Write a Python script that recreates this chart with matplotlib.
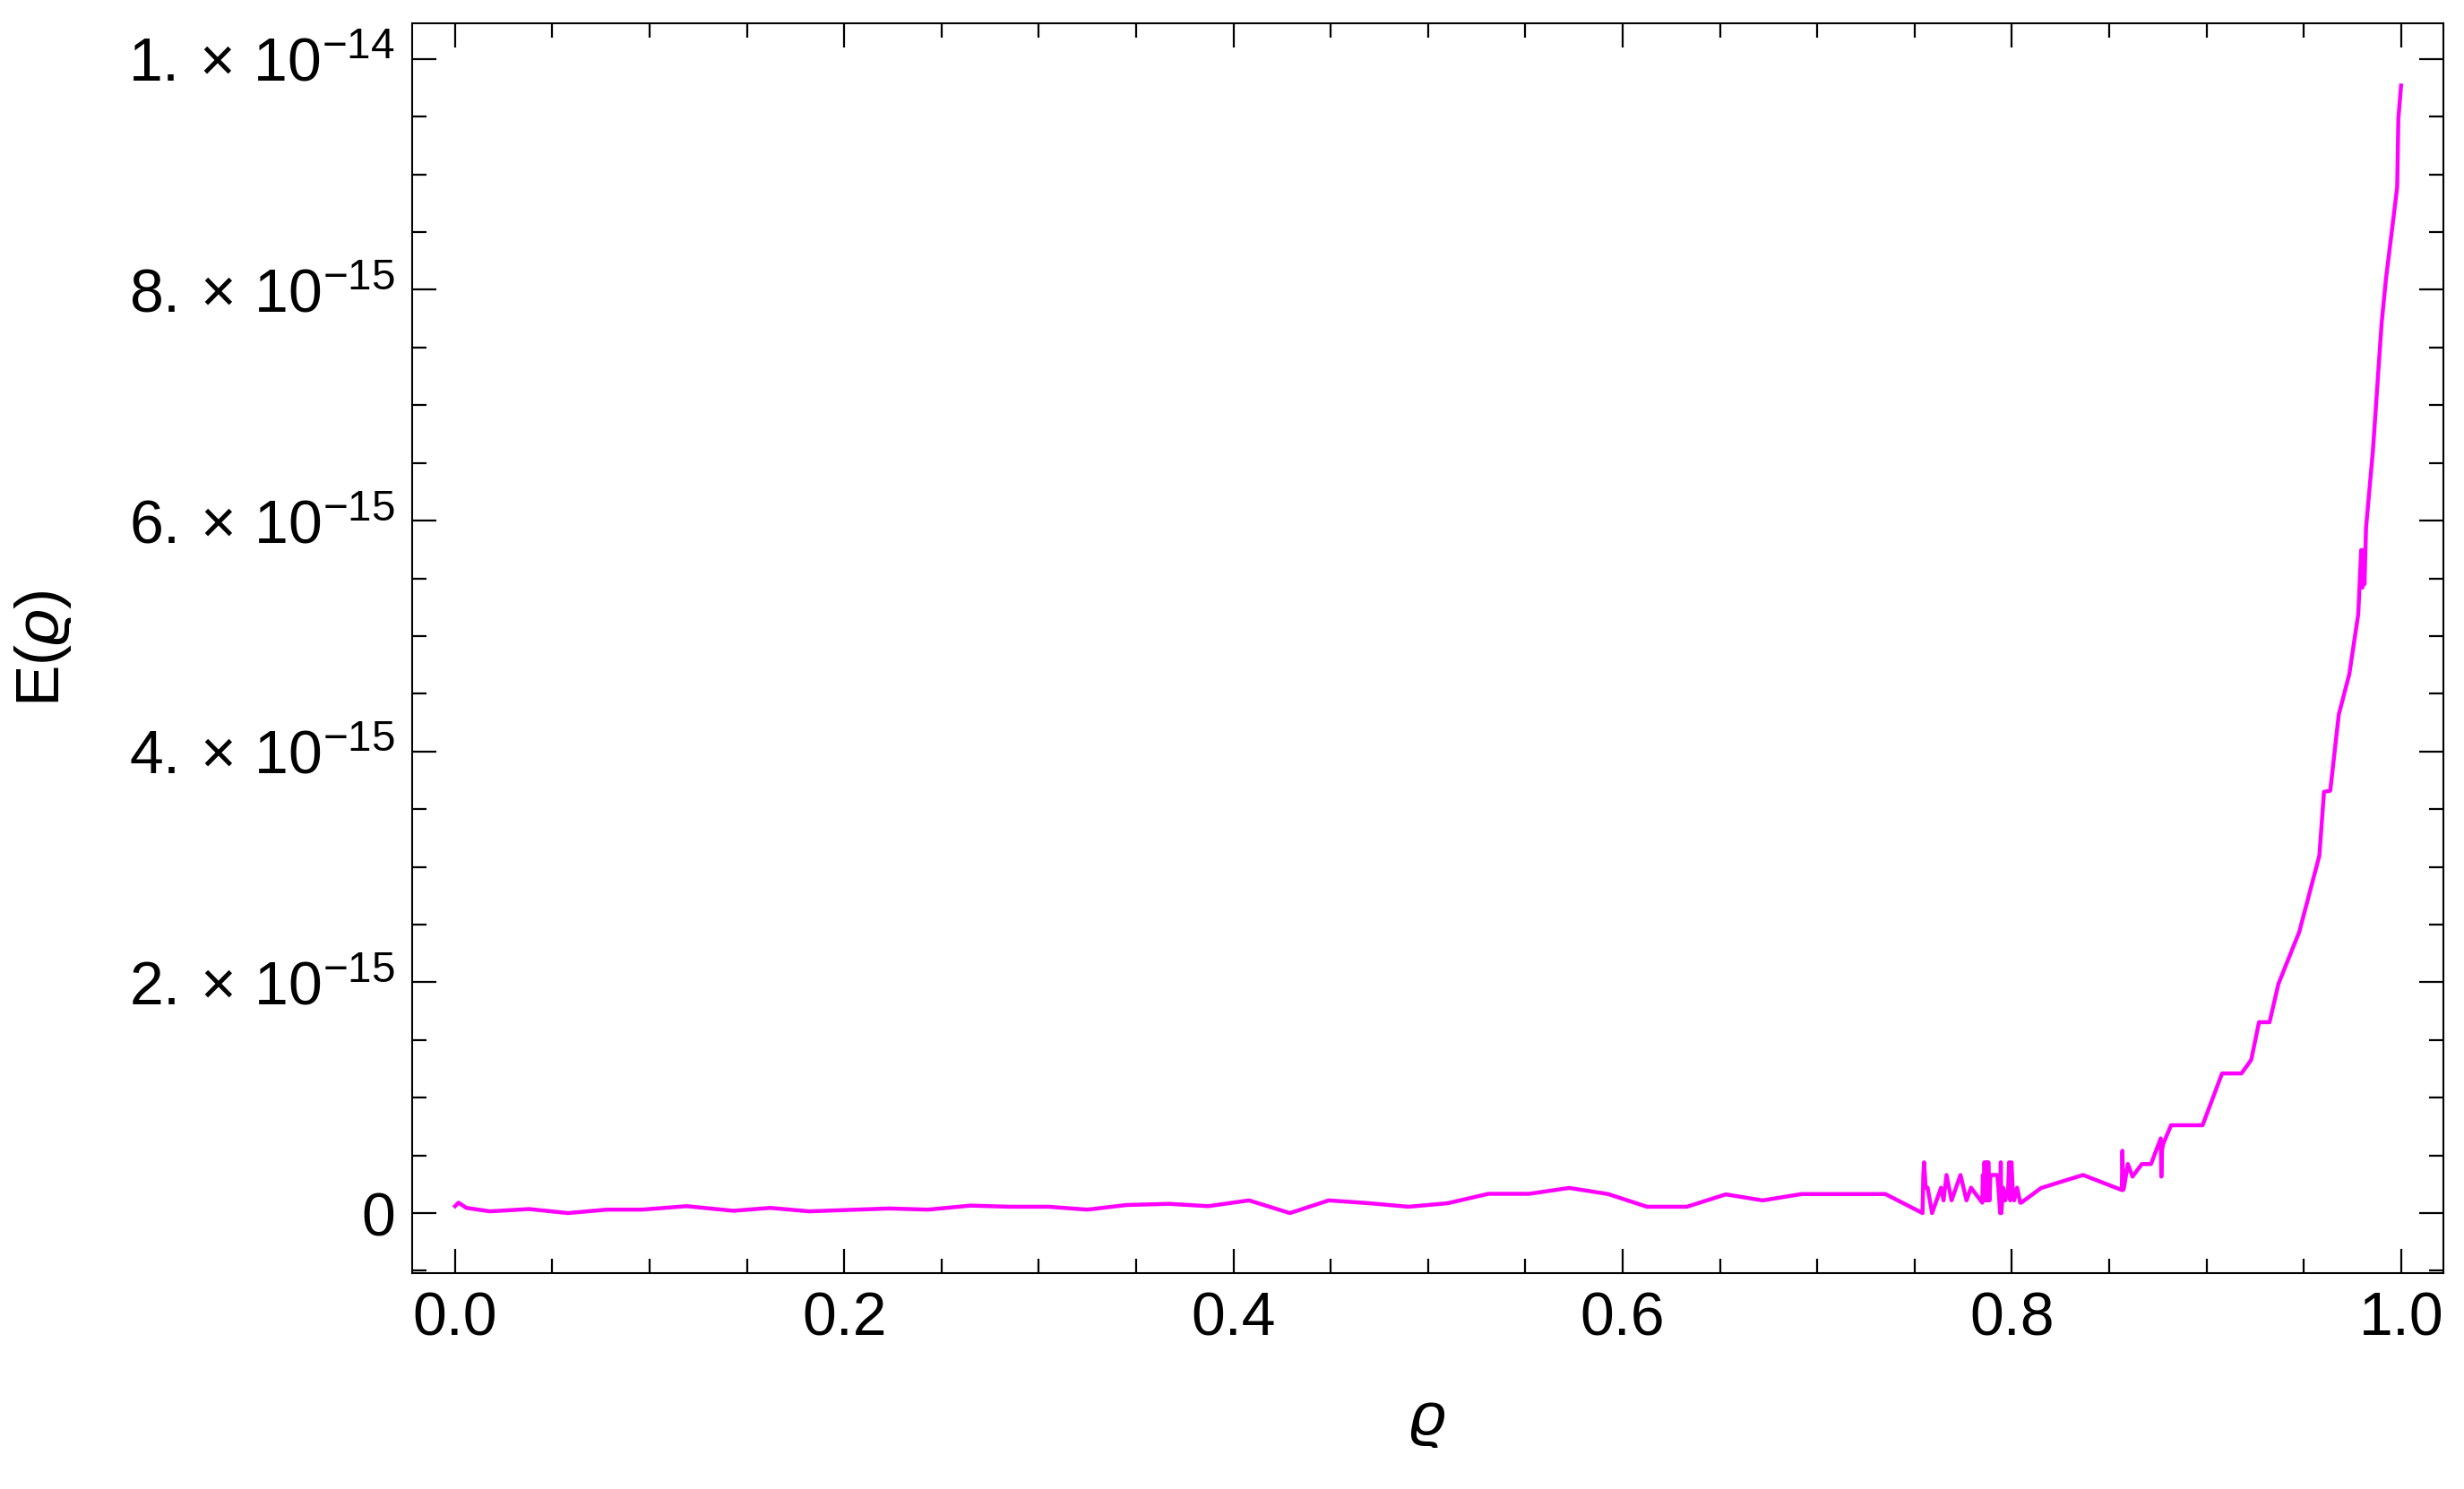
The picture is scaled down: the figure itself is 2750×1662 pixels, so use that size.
import matplotlib
matplotlib.use("Agg")
import matplotlib.pyplot as plt
from matplotlib.ticker import MultipleLocator

plt.rcParams["font.family"] = ["Liberation Sans", "DejaVu Sans"]
plt.rcParams["mathtext.fontset"] = "custom"
plt.rcParams["mathtext.rm"] = "Liberation Sans"
plt.rcParams["mathtext.it"] = "Liberation Sans:italic"
plt.rcParams["mathtext.fallback"] = "stixsans"

# rho values
rho = [
    0.0, 0.0018, 0.0058, 0.018, 0.038, 0.058, 0.078, 0.096, 0.119, 0.143,
    0.162, 0.182, 0.223, 0.243, 0.265, 0.285, 0.305, 0.325, 0.345, 0.367,
    0.387, 0.408, 0.429, 0.449, 0.470, 0.490, 0.510, 0.531, 0.552, 0.5725,
    0.5925, 0.6125, 0.633, 0.653, 0.672, 0.692, 0.735,
    # noisy part around 0.75 - 0.80
    0.7541, 0.7545, 0.7549, 0.7557, 0.7567, 0.7590, 0.7636, 0.7649, 0.7664,
    0.7690, 0.7736, 0.7767, 0.7790, 0.7848, 0.7851, 0.7855, 0.7859, 0.7865,
    0.7870, 0.7875, 0.7879, 0.7885, 0.7890, 0.7898, 0.7925, 0.7931, 0.7940,
    0.7943, 0.7946, 0.7955, 0.7966, 0.7981, 0.7986, 0.7992, 0.7998, 0.8004,
    0.8012, 0.8027, 0.8043, 0.8048,
    0.815, 0.825, 0.8366,
    # second noisy part and the rise
    0.8565, 0.8568, 0.8572, 0.8576, 0.8596, 0.862, 0.8668, 0.8715, 0.8765,
    0.8768, 0.8772, 0.8778, 0.8818, 0.898, 0.908, 0.918, 0.923, 0.927,
    0.9324, 0.937, 0.9477, 0.958, 0.9604, 0.9636, 0.968, 0.9734, 0.978,
    0.9795, 0.9802, 0.9808, 0.9812, 0.982, 0.9855, 0.990, 0.9922, 0.997,
    0.998, 0.9986, 1.0,
]

# E(rho) in units of 1e-15
err = [
    0.06, 0.09, 0.045, 0.015, 0.035, 0.0, 0.03, 0.03, 0.06, 0.02,
    0.045, 0.015, 0.04, 0.03, 0.065, 0.055, 0.055, 0.03, 0.07, 0.08,
    0.06, 0.11, 0.0, 0.11, 0.085, 0.055, 0.085, 0.167, 0.167, 0.218,
    0.165, 0.055, 0.055, 0.162, 0.11, 0.165, 0.165,
    0.0, 0.33, 0.44, 0.22, 0.22, 0.0, 0.22, 0.11, 0.33,
    0.11, 0.33, 0.11, 0.22, 0.09, 0.33, 0.11, 0.44, 0.11,
    0.44, 0.11, 0.44, 0.11, 0.33, 0.33, 0.33, 0.22, 0.0,
    0.44, 0.0, 0.22, 0.11, 0.22, 0.44, 0.11, 0.44, 0.22,
    0.11, 0.22, 0.09, 0.09,
    0.217, 0.27, 0.33,
    0.2, 0.54, 0.2, 0.22, 0.425, 0.316, 0.425, 0.425, 0.647,
    0.316, 0.55, 0.6, 0.761, 0.761, 1.21, 1.21, 1.328, 1.654,
    1.654, 1.987, 2.437, 3.096, 3.65, 3.66, 4.32, 4.67, 5.19,
    5.745, 5.42, 5.745, 5.45, 5.94, 6.6, 7.71, 8.09, 8.75,
    8.89, 9.48, 9.77,
]

ytick_vals = [0, 2e-15, 4e-15, 6e-15, 8e-15, 1e-14]
ytick_labels = [
    "0",
    r"$2.\times\,10^{-15}$",
    r"$4.\times\,10^{-15}$",
    r"$6.\times\,10^{-15}$",
    r"$8.\times\,10^{-15}$",
    r"$1.\times\,10^{-14}$",
]

fig = plt.figure(figsize=(13.75, 8.31), dpi=200)
ax = fig.add_axes([0.1673, 0.145, 0.8243, 0.8394])

ax.plot(rho, [v * 1e-15 for v in err], color="#ff00ff", lw=1.6)

ax.set_xlim(-0.022, 1.0217)
ax.set_ylim(-0.52e-15, 10.31e-15)

ax.xaxis.set_major_locator(MultipleLocator(0.2))
ax.xaxis.set_minor_locator(MultipleLocator(0.05))
ax.set_yticks(ytick_vals)
ax.set_yticklabels(ytick_labels)
ax.yaxis.set_minor_locator(MultipleLocator(0.5e-15))
ax.set_xticks([0.0, 0.2, 0.4, 0.6, 0.8, 1.0])
ax.set_xticklabels(["0.0", "0.2", "0.4", "0.6", "0.8", "1.0"])

ax.tick_params(which="both", direction="in", top=True, right=True,
               width=0.8, labelsize=24.5, colors="black")
ax.tick_params(which="major", length=9.7, pad=7)
ax.tick_params(which="minor", length=5.8)
for s in ax.spines.values():
    s.set_linewidth(0.75)

ax.set_xlabel(r"$\varrho$", fontsize=25, labelpad=18)
ax.set_ylabel(r"$\mathrm{E}(\varrho)$", fontsize=25, labelpad=22)

fig.savefig("out.png", dpi=200)
